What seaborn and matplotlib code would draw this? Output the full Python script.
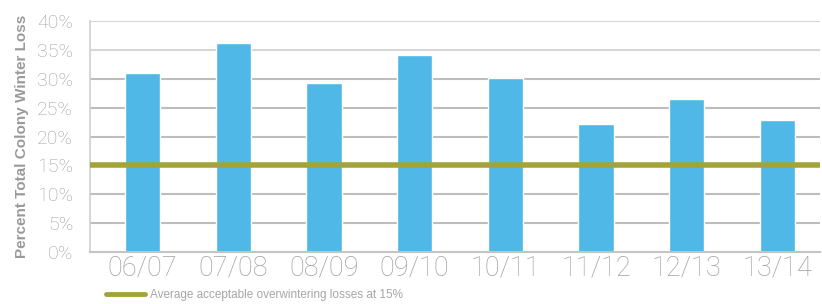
import seaborn as sns
import pandas as pd
import matplotlib.pyplot as plt
from matplotlib.lines import Line2D

seasons = ['06/07', '07/08', '08/09', '09/10', '10/11', '11/12', '12/13', '13/14']
loss = [31.0, 36.2, 29.3, 34.1, 30.1, 22.2, 26.5, 22.9]
acceptable = 15
legend_text = 'Average acceptable overwintering losses at 15%'

df = pd.DataFrame({'season': seasons, 'loss': loss})

sns.set_style('white')
plt.rcParams['font.family'] = ['Roboto', 'DejaVu Sans']

fig = plt.figure(figsize=(8.22, 3.04), dpi=100)
ax = fig.add_axes([90/822, 52/304, 730/822, 231/304])

sns.barplot(data=df, x='season', y='loss', color='#4fb8e7', width=0.39,
            saturation=1, ax=ax, zorder=2)

# gridlines
for v in range(5, 45, 5):
    ax.axhline(v, color='#bdbdbd' if v < 35 else '#d6d6d6', lw=1.5, zorder=1)
ax.axhline(acceptable, color='#a3a339', lw=4, zorder=3)

ax.set_ylim(0, 40)
ax.set_xlim(-0.58, 7.47)
ax.set_yticks(range(0, 45, 5))
ax.set_yticklabels([f'{v}%' for v in range(0, 45, 5)])
ax.tick_params(axis='y', labelsize=14, colors='#a0a0a0', length=0, pad=12)
ax.tick_params(axis='x', labelsize=19.5, colors='#a0a0a0', length=0, pad=2)
for t in ax.get_xticklabels() + ax.get_yticklabels():
    t.set_fontweight('light')
ax.set_xlabel('')
ax.set_ylabel('Percent Total Colony Winter Loss', fontsize=11, fontweight='bold',
              color='#9a9a9a', labelpad=6, family=['Liberation Sans', 'DejaVu Sans'])

for s in ['top', 'right']:
    ax.spines[s].set_visible(False)
ax.spines['left'].set_color('#d0d0d0')
ax.spines['bottom'].set_color('#c4c4c4')
ax.spines['left'].set_linewidth(1.2)
ax.spines['bottom'].set_linewidth(1.5)

handle = Line2D([0], [0], color='#a3a339', lw=3.5)
fig.legend(handles=[handle], labels=[legend_text], loc='lower left',
           bbox_to_anchor=(95/822, -8/304), frameon=False,
           prop={'family': ['Liberation Sans', 'DejaVu Sans'], 'size': 8.5},
           handlelength=3.3, handletextpad=0.5, labelcolor='#a6a6a6')

fig.savefig('out.png', dpi=100)
